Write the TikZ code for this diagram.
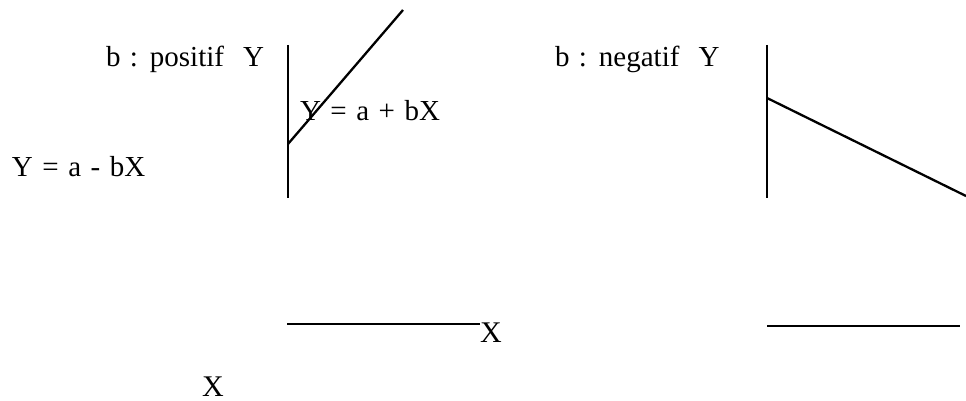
\documentclass[tikz,border=0pt]{standalone}
\usepackage{fontspec}
\setmainfont{Liberation Serif}
\newcommand\widespc{\spaceskip=9.5pt\relax}
\tikzset{
  lbl/.style={inner sep=0pt, outer sep=0pt, anchor=base west, font=\fontsize{29}{34}\selectfont, execute at begin node=\widespc},
  bigx/.style={inner sep=0pt, outer sep=0pt, anchor=base west, font=\fontsize{30}{36}\selectfont},
  axis/.style={line width=2.3pt, line cap=butt}
}
\begin{document}
\begin{tikzpicture}[x=1pt,y=-1pt]
\useasboundingbox (0,0) rectangle (966,401);
% left graph
\coordinate (ly1) at (288,45);
\coordinate (ly0) at (288,198);
\coordinate (la) at (288,144);
\coordinate (lend) at (403,10);
\coordinate (lx0) at (287,324);
\coordinate (lx1) at (480,324);
\draw[axis] (ly1) -- (ly0);
\draw[axis] (la) -- (lend);
\draw[axis] (lx0) -- (lx1);
\node[lbl] (t1) at (106,67) {b : positif\ \ Y};
\node[lbl] (t2) at (300,121) {Y = a + bX};
\node[lbl] (t3) at (12,176) {Y = a - bX};
\node[bigx] (x1) at (480,342) {X};
\node[bigx] (x2) at (202,396) {X};
% right graph
\coordinate (ry1) at (767,45);
\coordinate (ry0) at (767,198);
\coordinate (ra) at (767,98);
\coordinate (rend) at (966,196);
\coordinate (rx0) at (767,326);
\coordinate (rx1) at (960,326);
\draw[axis] (ry1) -- (ry0);
\draw[axis] (ra) -- (rend);
\draw[axis] (rx0) -- (rx1);
\node[lbl] (t4) at (555,67) {b : negatif\ \ Y};
\end{tikzpicture}
\end{document}
